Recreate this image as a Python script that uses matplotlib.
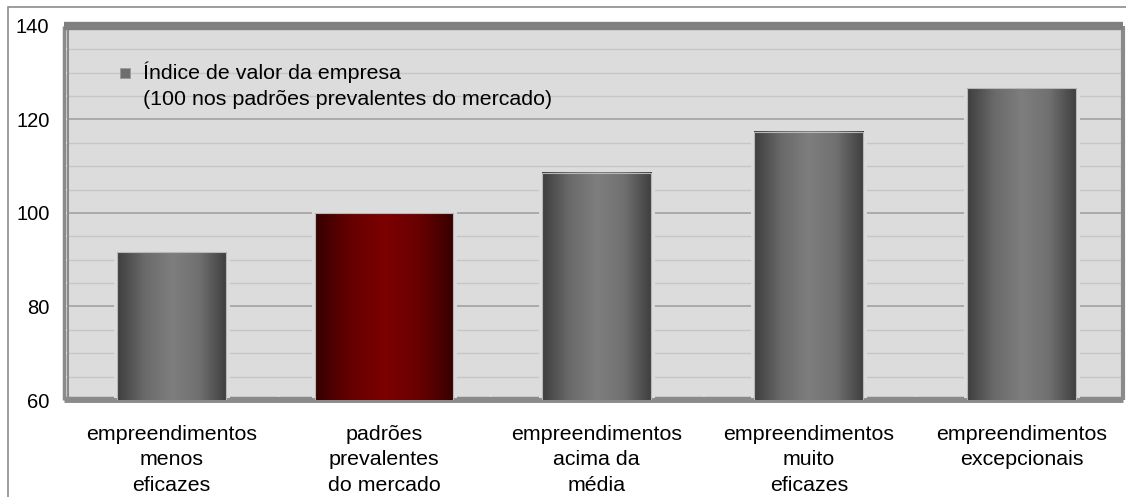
import numpy as np
import matplotlib.pyplot as plt
from matplotlib.colors import LinearSegmentedColormap
from matplotlib.patches import Rectangle

plt.rcParams["font.family"] = ["Liberation Sans", "DejaVu Sans"]

categorias = [
    "empreendimentos\nmenos\neficazes",
    "padrões\nprevalentes\ndo mercado",
    "empreendimentos\nacima da\nmédia",
    "empreendimentos\nmuito\neficazes",
    "empreendimentos\nexcepcionais",
]
indice = [91.6, 100, 108.6, 117.4, 126.7]
destaque = [False, True, False, False, False]
legenda = "Índice de valor da empresa\n(100 nos padrões prevalentes do mercado)"

# degradês horizontais das colunas
cinza = LinearSegmentedColormap.from_list(
    "cinza", ["#3e3e3e", "#6a6a6a", "#7e7e7e", "#707070", "#3e3e3e"])
vermelho = LinearSegmentedColormap.from_list(
    "vermelho", ["#360000", "#650000", "#7c0000", "#690000", "#360000"])
grad = np.linspace(0, 1, 256).reshape(1, -1)

fig = plt.figure(figsize=(11.26, 4.97), dpi=100)
ax = fig.add_axes([64 / 1126, 97 / 497, (1123 - 64) / 1126, (400 - 26) / 497])
ax.set_facecolor("#dcdcdc")

x = np.arange(len(categorias))
larguras = [0.654 if d else 0.513 for d in destaque]

# fundo claro atrás das colunas (interrompe as linhas de grade)
ax.bar(x, indice, width=larguras, color="#dcdcdc", edgecolor="#dcdcdc",
       linewidth=5, zorder=2)
barras = ax.bar(x, indice, width=larguras, facecolor="none",
                edgecolor="#b8b8b8", linewidth=0.8, zorder=4)
for b, d in zip(barras, destaque):
    x0, w, h = b.get_x(), b.get_width(), b.get_height()
    ax.imshow(grad, cmap=vermelho if d else cinza, aspect="auto",
              extent=(x0, x0 + w, 60, h), zorder=3)

ax.set_xlim(-0.506, 4.478)
ax.set_ylim(60, 140)

# piso da parede do fundo
ax.plot([0, 1], [0.006, 0.006], transform=ax.transAxes, color="#8a8a8a",
        lw=2.5, zorder=1.5, solid_capstyle="butt")
# borda interna da parede lateral
ax.plot([0.0035, 0.0035], [0, 1], transform=ax.transAxes, color="#8a8a8a",
        lw=1.5, zorder=1.5)

ax.set_yticks(np.arange(60, 141, 20))
ax.set_yticks(np.arange(60, 141, 5), minor=True)
ax.grid(axis="y", which="major", color="#a6a6a6", lw=1.3)
ax.grid(axis="y", which="minor", color="#c6c6c6", lw=1.0)
ax.set_axisbelow(True)

ax.set_xticks(x)
ax.set_xticklabels(categorias, fontsize=15.4, linespacing=1.42)
ax.set_xticks(np.arange(0.5, len(categorias) - 1), minor=True)
ax.tick_params(axis="x", which="major", length=0, pad=18)
ax.tick_params(axis="x", which="minor", direction="inout", length=6,
               width=2, color="white")
ax.tick_params(axis="y", which="both", direction="inout", length=6,
               width=1.5, color="white", labelsize=14.5, pad=7.5)

for lado, cor, lw in [("left", "#8a8a8a", 2.5), ("bottom", "#8a8a8a", 3.5),
                      ("right", "#8a8a8a", 3), ("top", "#808080", 6)]:
    ax.spines[lado].set_color(cor)
    ax.spines[lado].set_linewidth(lw)
    ax.spines[lado].set_capstyle("butt")

# legenda
ax.scatter([0.058], [0.874], marker="s", s=55, color="#6e6e6e",
           edgecolor="#9a9a9a", linewidth=0.6, transform=ax.transAxes,
           zorder=5)
ax.text(0.0745, 0.904, legenda, transform=ax.transAxes, fontsize=15.4,
        va="top", ha="left", linespacing=1.42, zorder=5)

# moldura externa do gráfico
fig.add_artist(Rectangle((8 / 1126, -0.05), 1.1, 1 - 7 / 497 + 0.05,
                         transform=fig.transFigure, fill=False,
                         edgecolor="#8c8c8c", lw=1.2))

fig.savefig("out.png", dpi=100)
